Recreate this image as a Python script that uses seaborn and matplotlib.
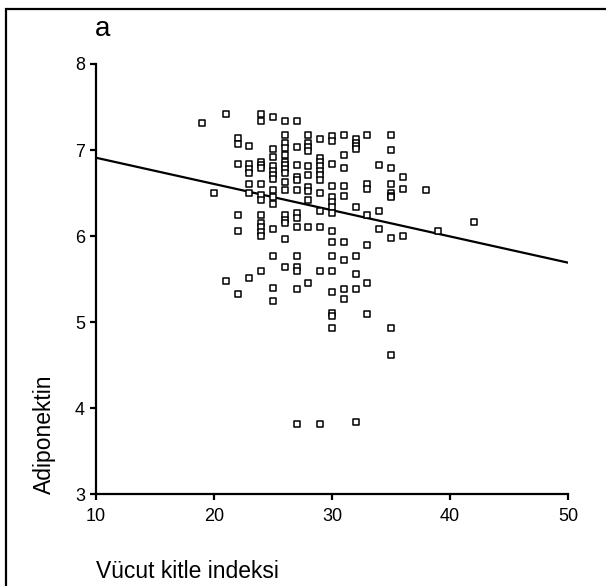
import numpy as np
import pandas as pd
import matplotlib
matplotlib.use("Agg")
import matplotlib.pyplot as plt
import seaborn as sns
from matplotlib.patches import Rectangle

sns.set_theme(style="ticks")
plt.rcParams['font.family'] = ['Liberation Sans', 'DejaVu Sans']

# ---- data (BMI columns -> adiponektin values) ----
bmi_levels = [19, 20, 21, 22, 23, 24, 25, 26, 27, 28, 29, 30, 31, 32, 33, 34, 35, 36, 38, 39, 42]
adipo_by_bmi = [
    [7.31],
    [6.50],
    [7.42, 5.48],
    [7.14, 7.07, 6.84, 6.24, 6.06, 5.33],
    [7.05, 6.84, 6.78, 6.73, 6.61, 6.50, 5.51],
    [7.42, 7.34, 6.86, 6.82, 6.79, 6.61, 6.48, 6.42, 6.24, 6.15, 6.10, 6.05, 6.00, 5.59],
    [7.38, 7.01, 6.92, 6.81, 6.76, 6.71, 6.66, 6.53, 6.45, 6.37, 6.08, 5.77, 5.40, 5.25],
    [7.34, 7.18, 7.08, 7.02, 6.94, 6.86, 6.82, 6.78, 6.73, 6.63, 6.53, 6.25, 6.19, 6.15, 5.97, 5.64],
    [7.34, 7.03, 6.83, 6.69, 6.65, 6.53, 6.27, 6.21, 6.11, 5.77, 5.64, 5.59, 5.38, 3.81],
    [7.18, 7.08, 7.03, 6.99, 6.81, 6.71, 6.57, 6.52, 6.42, 6.11, 5.45],
    [7.13, 6.91, 6.86, 6.81, 6.76, 6.71, 6.65, 6.50, 6.29, 6.11, 5.59, 3.81],
    [7.16, 7.10, 6.84, 6.58, 6.45, 6.40, 6.34, 6.27, 6.06, 5.93, 5.77, 5.59, 5.35, 5.10, 5.07, 4.93],
    [7.18, 6.94, 6.79, 6.58, 6.47, 5.93, 5.72, 5.38, 5.27],
    [7.13, 7.08, 7.05, 7.01, 6.34, 5.77, 5.56, 5.38, 3.84],
    [7.18, 6.61, 6.55, 6.24, 5.90, 5.45, 5.09],
    [6.82, 6.29, 6.08],
    [7.18, 7.00, 6.79, 6.61, 6.50, 6.47, 6.45, 5.98, 4.93, 4.62],
    [6.69, 6.55, 6.00],
    [6.53],
    [6.06],
    [6.16],
]
# regresyon doğrusu katsayıları
reg_intercept = 7.215
reg_slope = -0.0305
x_ticks = [10, 20, 30, 40, 50]
y_ticks = [3, 4, 5, 6, 7, 8]

rows = []
for b, vals in zip(bmi_levels, adipo_by_bmi):
    for v in vals:
        rows.append((b, v))
df = pd.DataFrame(rows, columns=['BMI', 'Adiponektin'])

fig = plt.figure(figsize=(6.06, 5.86), dpi=100)
ax = fig.add_axes([96 / 606, 1 - 494 / 586, (568 - 96) / 606, (494 - 64) / 586])

ax.set_xlim(10, 50)
ax.set_ylim(3, 8)

sns.scatterplot(data=df, x='BMI', y='Adiponektin', ax=ax, marker='s', s=14,
                facecolor='white', edgecolor='black', linewidth=1.1, zorder=3)

# doğru eksen boyunca uzatılıyor
line_x = np.array(ax.get_xlim())
line_df = pd.DataFrame({'BMI': line_x, 'Fit': reg_intercept + reg_slope * line_x})
sns.lineplot(data=line_df, x='BMI', y='Fit', ax=ax, color='black', linewidth=1.6)

ax.set_xlim(10, 50)
ax.set_ylim(3, 8)
ax.set_xticks(x_ticks)
ax.set_yticks(y_ticks)

sns.despine(ax=ax)
for side in ['left', 'bottom']:
    ax.spines[side].set_linewidth(1.6)
    ax.spines[side].set_color('black')
ax.tick_params(direction='out', length=4.5, width=1.6, color='black',
               labelsize=13, labelcolor='black', pad=3.5)
ax.tick_params(axis='x', pad=5.5)

ax.set_xlabel('Vücut kitle indeksi', fontsize=16.5, color='black', loc='left')
ax.xaxis.set_label_coords(0.0, -0.153)
ax.xaxis.label.set_va('top')
ax.xaxis.label.set_ha('left')

ax.set_ylabel('Adiponektin', fontsize=16.5, color='black', loc='bottom')
ax.yaxis.set_label_coords(-0.085, 0.0)

fig.text(103 / 606, 1 - 29 / 586, 'a', fontsize=20, ha='center', va='center', color='black')

# dış çerçeve (sağ ve alt kenar resmin dışında kalıyor)
fig.add_artist(Rectangle((6 / 606, -0.05), 1.1, 1 - 9 / 586 + 0.05, fill=False,
                         edgecolor='black', linewidth=1.6, transform=fig.transFigure))

fig.savefig('out.png', dpi=100)
